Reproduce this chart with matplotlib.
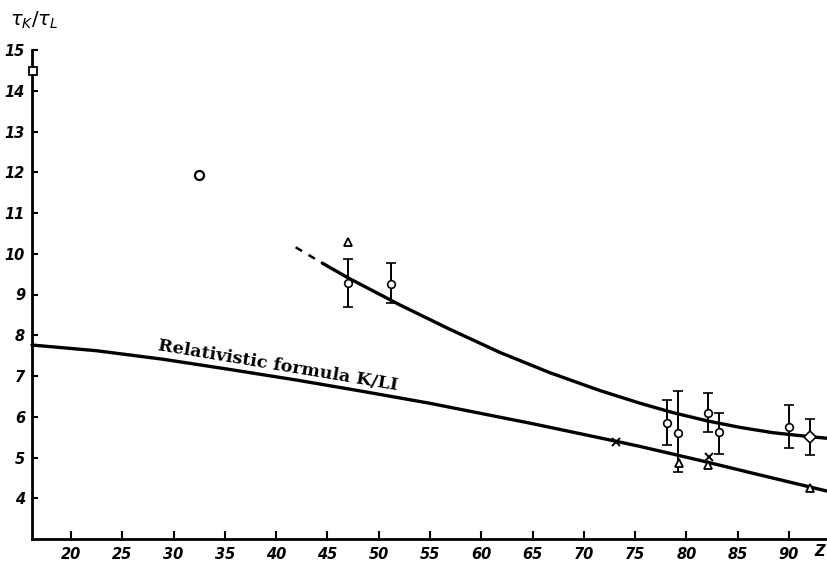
import matplotlib
matplotlib.use("Agg")
import matplotlib.pyplot as plt

# ---- data ----
# Relativistic formula K/LI (lower curve)
rel_z = [16.2, 22.5, 29.0, 35.5, 42.0, 48.5, 55.0, 58.6, 65.0, 69.9, 73.1, 75.5, 81.3, 87.2, 93.8]
rel_v = [7.76, 7.62, 7.41, 7.16, 6.90, 6.62, 6.33, 6.15, 5.83, 5.57, 5.40, 5.27, 4.93, 4.57, 4.17]

# Upper empirical curve: dashed part and solid part
up_dash_z = [41.9, 44.5]
up_dash_v = [10.16, 9.77]
up_z = [44.5, 47, 52.1, 56.9, 61.8, 66.7, 71.6, 75.5, 78.7, 82.0, 85.2, 88.4, 91.7, 93.8]
up_v = [9.77, 9.41, 8.74, 8.15, 7.58, 7.08, 6.64, 6.33, 6.10, 5.90, 5.74, 5.61, 5.52, 5.47]

# measured points
sq_z, sq_v = [16.3], [14.48]
circ_z, circ_v = [32.5], [11.93]
tri_z = [47, 79.3, 82.1, 92]
tri_v = [10.3, 4.86, 4.81, 4.25]
x_z = [73.1, 82.2]
x_v = [5.37, 5.02]
err_z = [47, 51.2, 78.1, 79.2, 82.1, 83.2, 90.0]
err_v = [9.28, 9.25, 5.84, 5.60, 6.09, 5.62, 5.74]
err_lo = [8.69, 8.79, 5.30, 4.64, 5.62, 5.08, 5.23]
err_hi = [9.87, 9.77, 6.41, 6.63, 6.58, 6.09, 6.28]
dia_z, dia_v, dia_lo, dia_hi = [92], [5.50], [5.06], [5.94]

x_ticks = [20, 25, 30, 35, 40, 45, 50, 55, 60, 65, 70, 75, 80, 85, 90]
y_ticks = [4, 5, 6, 7, 8, 9, 10, 11, 12, 13, 14, 15]

tick_font = dict(family=["Liberation Sans Narrow", "DejaVu Sans"], weight="bold",
                 style="italic", size=10.5)

fig = plt.figure(figsize=(8.28, 5.61), dpi=100)
ax = fig.add_axes([32 / 828, 22 / 561, (828 - 32) / 828, 489 / 561])
ax.set_xlim(16.2, 93.8)
ax.set_ylim(3.0, 15.0)

for s in ("top", "right"):
    ax.spines[s].set_visible(False)
for s in ("left", "bottom"):
    ax.spines[s].set_linewidth(2.0)

lw = 2.4
ax.plot(rel_z, rel_v, color="black", lw=lw, solid_capstyle="round",
        solid_joinstyle="round", clip_on=False)
ax.plot(up_z, up_v, color="black", lw=lw, solid_capstyle="round",
        solid_joinstyle="round", clip_on=False)
ax.plot(up_dash_z, up_dash_v, color="black", lw=1.8, linestyle=(0, (3, 3)))

ax.errorbar(err_z, err_v, yerr=[[v - l for v, l in zip(err_v, err_lo)],
                                [h - v for v, h in zip(err_v, err_hi)]],
            fmt="o", ms=5.5, mfc="white", mec="black", mew=1.2, ecolor="black",
            elinewidth=1.4, capsize=3.5, capthick=1.4, zorder=4)
ax.errorbar(dia_z, dia_v, yerr=[[dia_v[0] - dia_lo[0]], [dia_hi[0] - dia_v[0]]],
            fmt="D", ms=6, mfc="white", mec="black", mew=1.2, ecolor="black",
            elinewidth=1.4, capsize=3.5, capthick=1.4, zorder=4)
ax.plot(sq_z, sq_v, "s", ms=6, mfc="white", mec="black", mew=1.3, clip_on=False, zorder=5)
ax.plot(circ_z, circ_v, "o", ms=6.5, mfc="white", mec="black", mew=1.6, zorder=5)
ax.plot(tri_z, tri_v, "^", ms=6, mfc="white", mec="black", mew=1.3, zorder=5)
ax.plot(x_z, x_v, "x", ms=5.5, mec="black", mew=1.4, zorder=5)

ax.set_xticks(x_ticks)
ax.set_yticks(y_ticks)
ax.set_xticklabels([str(t) for t in x_ticks], fontdict=tick_font)
ax.set_yticklabels([str(t) for t in y_ticks], fontdict=tick_font)
ax.tick_params(axis="x", direction="in", length=6, width=1.5, pad=6)
ax.tick_params(axis="y", direction="in", length=4, width=1.5, pad=5)

ax.text(28.4, 7.64, "Relativistic formula K/LI", rotation=-9.5, rotation_mode="anchor",
        ha="left", va="baseline", family="DejaVu Serif", weight="bold", size=12.6)

fig.text(820 / 828, 1 - 552 / 561, "Z", ha="center", va="center", **tick_font)
fig.text(10 / 828, 1 - 20 / 561, r"$\tau_K/\tau_L$", ha="left", va="center", size=14,
         color="black")

fig.savefig("out.png", dpi=100)
